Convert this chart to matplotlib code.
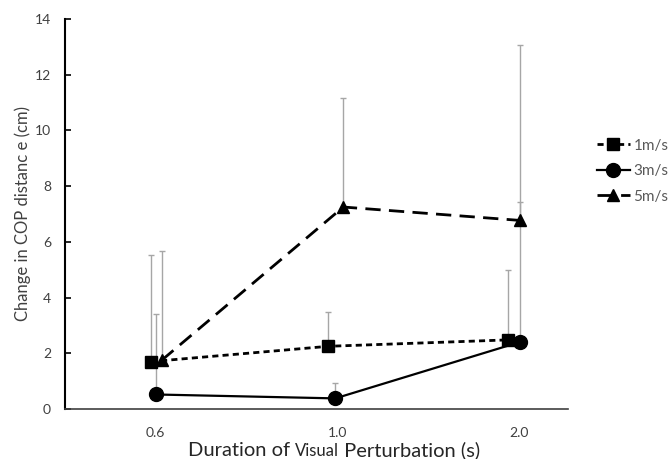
import numpy as np
import matplotlib.pyplot as plt
from matplotlib.offsetbox import TextArea, HPacker, AnchoredOffsetbox

plt.rcParams['font.family'] = ['Lato', 'DejaVu Sans']

durations = ['0.6', '1.0', '2.0']
positions = [1, 2, 3]

# x positions are slightly staggered per series, as in the original
x_1ms = [0.973, 1.951, 2.94]
x_3ms = [1.0, 1.989, 3.005]
x_5ms = [1.033, 2.033, 3.005]

mean_1ms = [1.7, 2.25, 2.48]
mean_3ms = [0.52, 0.38, 2.4]
mean_5ms = [1.75, 7.25, 6.77]

sd_1ms = [3.83, 1.23, 2.51]
sd_3ms = [2.9, 0.55, 5.03]
sd_5ms = [3.92, 3.9, 6.3]

fig = plt.figure(figsize=(6.68, 4.59), dpi=100)
ax = fig.add_axes([0.0973, 0.109, 0.7527, 0.8496])

err_color = '#a6a6a6'
for xs, ys, sd in [(x_1ms, mean_1ms, sd_1ms), (x_3ms, mean_3ms, sd_3ms), (x_5ms, mean_5ms, sd_5ms)]:
    ax.errorbar(xs, ys, yerr=[np.zeros(len(sd)), sd], fmt='none',
                ecolor=err_color, elinewidth=1, capsize=2.5, capthick=1, zorder=1)

ax.plot(x_1ms, mean_1ms, color='black', lw=2, linestyle=(0, (2.2, 1.5)),
        marker='s', markersize=9, label='1m/s', zorder=3)
ax.plot(x_3ms, mean_3ms, color='black', lw=1.6, linestyle='-',
        marker='o', markersize=10, label='3m/s', zorder=3)
ax.plot(x_5ms, mean_5ms, color='black', lw=2, linestyle=(0, (5.5, 3)),
        marker='^', markersize=9, label='5m/s', zorder=3)

ax.set_xlim(0.5, 3.27)
ax.set_ylim(0, 14)
ax.set_xticks(positions)
ax.set_xticklabels(durations)
ax.set_yticks(np.arange(0, 15, 2))

for side in ['top', 'right']:
    ax.spines[side].set_visible(False)
ax.spines['left'].set_linewidth(1.5)
ax.spines['bottom'].set_linewidth(1.2)
ax.spines['bottom'].set_color('#404040')

ax.tick_params(axis='y', direction='in', length=4, width=1.2, pad=10,
               labelsize=10, labelcolor='#404040')
ax.tick_params(axis='x', length=0, pad=13, labelsize=10, labelcolor='#404040')

ax.set_ylabel('Change in COP distanc e (cm)', fontsize=12, color='#404040', labelpad=3)

# x label with a smaller "Visual"
label_color = '#262626'
parts = [TextArea('Duration of ', textprops=dict(fontsize=14.5, color=label_color)),
         TextArea('Visual', textprops=dict(fontsize=12, color=label_color)),
         TextArea(' Perturbation (s)', textprops=dict(fontsize=14.5, color=label_color))]
pack = HPacker(children=parts, align='baseline', pad=0, sep=0)
box = AnchoredOffsetbox(loc='lower center', child=pack, pad=0, borderpad=0, frameon=False,
                        bbox_to_anchor=(0.5, 0.0), bbox_transform=fig.transFigure)
fig.add_artist(box)

leg = ax.legend(loc='center left', bbox_to_anchor=(1.03, 0.61), frameon=False,
                fontsize=11, handlelength=2.2, handletextpad=0.2, labelspacing=0.75,
                labelcolor='#595959')

fig.savefig('out.png', dpi=100)
